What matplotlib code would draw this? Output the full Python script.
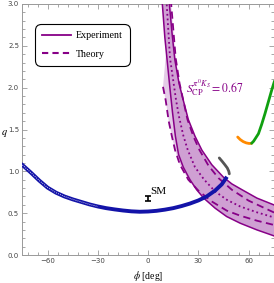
import numpy as np
import matplotlib
matplotlib.use("Agg")
import matplotlib.pyplot as plt
from matplotlib.ticker import MultipleLocator
from matplotlib.lines import Line2D

plt.rcParams['mathtext.fontset'] = 'stix'

# curves, (phi [deg], q)
exp_lo_phi = [8.0, 8.5, 10.0, 11.5, 13.0, 14.6, 16.3, 18.2, 21.0, 25.0, 29.0, 33.2, 40.0, 46.9, 55.0, 65.0, 75.0, 76.0]
exp_lo_q = [3.05, 3.0, 2.6, 2.3, 2.0, 1.7, 1.42, 1.2, 1.05, 0.90, 0.78, 0.68, 0.56, 0.46, 0.38, 0.30, 0.23, 0.22]
exp_hi_phi = [12.5, 12.7, 14.3, 16.0, 18.5, 21.0, 24.0, 28.0, 32.1, 38.0, 45.0, 50.0, 56.1, 65.0, 75.0, 76.0]
exp_hi_q = [3.05, 3.0, 2.65, 2.33, 2.05, 1.85, 1.62, 1.42, 1.254, 1.08, 0.93, 0.85, 0.78, 0.68, 0.60, 0.59]
exp_mid_phi = [10.9, 11.1, 13.1, 16.7, 18.5, 21.0, 23.7, 28.0, 33.5, 40.0, 47.0, 55.0, 65.0, 75.0, 76.0]
exp_mid_q = [3.05, 3.0, 2.35, 1.85, 1.65, 1.43, 1.254, 1.05, 0.90, 0.76, 0.66, 0.58, 0.51, 0.45, 0.445]

th_hi_phi = [13.6, 13.9, 16.5, 18.8, 21.0, 23.5, 27.0, 30.7, 36.0, 42.0, 50.0, 60.0, 75.0, 76.0]
th_hi_q = [3.05, 2.97, 2.35, 2.05, 1.85, 1.62, 1.42, 1.254, 1.07, 0.92, 0.78, 0.65, 0.51, 0.50]
th_lo_phi = [8.9, 10.5, 12.3, 14.2, 16.1, 19.0, 24.0, 30.0, 38.0, 47.0, 55.0, 65.0, 75.0, 76.0]
th_lo_q = [2.01, 1.85, 1.6, 1.42, 1.254, 1.08, 0.90, 0.77, 0.64, 0.53, 0.47, 0.41, 0.36, 0.355]

blue_phi = [-76, -75, -70, -65, -60, -55, -50, -45, -40, -35, -30, -25, -20, -15, -10, -5, 0,
            5, 10, 15, 20, 25, 30, 35, 40, 44, 47.1]
blue_q = [1.09, 1.075, 0.985, 0.89, 0.805, 0.745, 0.70, 0.665, 0.635, 0.605, 0.58, 0.56, 0.545,
          0.532, 0.522, 0.517, 0.52, 0.528, 0.542, 0.56, 0.585, 0.615, 0.652, 0.70, 0.77, 0.845, 0.935]

gray_phi = [42.5, 44.2, 45.8, 47.3, 48.2, 48.5]
gray_q = [1.16, 1.12, 1.08, 1.04, 1.0, 0.97]
orange_phi = [53.5, 55.0, 56.8, 58.6, 60.3, 61.8]
orange_q = [1.41, 1.38, 1.355, 1.34, 1.333, 1.335]
green_phi = [61.8, 63.0, 64.3, 65.9, 67.8, 69.8, 71.8, 73.8, 75.5]
green_q = [1.335, 1.36, 1.40, 1.45, 1.56, 1.69, 1.83, 1.97, 2.08]

sm_phi, sm_q, sm_err = 0.0, 0.675, 0.025

purple = '#870087'

fig = plt.figure(figsize=(2.74, 2.83), dpi=100)
ax = fig.add_axes([0.0821, 0.0989, 0.9168, 0.887])

# theory band (lighter) and experiment band
ax.fill(np.r_[th_hi_phi, th_lo_phi[::-1]], np.r_[th_hi_q, th_lo_q[::-1]],
        color='#e4cbe7', lw=0, zorder=1)
ax.fill(np.r_[exp_hi_phi, exp_lo_phi[::-1]], np.r_[exp_hi_q, exp_lo_q[::-1]],
        color='#cfa0d3', lw=0, zorder=2)

ax.plot(exp_lo_phi, exp_lo_q, color=purple, lw=1.1, zorder=3)
ax.plot(exp_hi_phi, exp_hi_q, color=purple, lw=1.1, zorder=3)
ax.plot(exp_mid_phi, exp_mid_q, color=purple, lw=1.3, ls=(0, (1, 1.6)), zorder=3)
ax.plot(th_hi_phi, th_hi_q, color=purple, lw=1.3, ls=(0, (4, 2.5)), zorder=3)
ax.plot(th_lo_phi, th_lo_q, color=purple, lw=1.3, ls=(0, (4, 2.5)), zorder=3)

ax.plot(blue_phi, blue_q, color='#1313a8', lw=2.8, zorder=4, solid_capstyle='butt')
ax.plot(blue_phi[:11], blue_q[:11], color='white', lw=0.6, ls=(0, (1, 1.5)), zorder=5)
ax.plot(gray_phi, gray_q, color='#555555', lw=2.0, zorder=4, solid_capstyle='round')
ax.plot(orange_phi, orange_q, color='#ff8a00', lw=2.0, zorder=4, solid_capstyle='round')
ax.plot(green_phi, green_q, color='#10a010', lw=2.0, zorder=4, solid_capstyle='round')

ax.errorbar([sm_phi], [sm_q], yerr=[sm_err], fmt='none', ecolor='black',
            elinewidth=1.2, capsize=2, capthick=1.2, zorder=6)
ax.text(1.0, 0.735, 'SM', fontsize=8, family='Liberation Serif', zorder=6)

ax.text(40, 2.0, r'$S_{\rm CP}^{\pi^0 K_S} = 0.67$', color=purple, fontsize=8.5,
        ha='center', va='center')

handles = [Line2D([], [], color=purple, lw=1.3),
           Line2D([], [], color=purple, lw=1.5, ls=(0, (3, 2)))]
leg = ax.legend(handles, ['Experiment', 'Theory'], loc='upper left',
                bbox_to_anchor=(0.035, 0.935), prop={'family': 'Liberation Serif', 'size': 7.2},
                handlelength=2.9, handletextpad=0.45, labelspacing=0.95,
                borderpad=0.6, frameon=True, fancybox=True, framealpha=1)
leg.get_frame().set_edgecolor('black')
leg.get_frame().set_linewidth(0.8)
leg.get_frame().set_boxstyle('round,pad=0.1,rounding_size=0.6')

ax.set_xlim(-75, 75)
ax.set_ylim(0, 3)
ax.xaxis.set_major_locator(MultipleLocator(30))
ax.xaxis.set_minor_locator(MultipleLocator(6))
ax.yaxis.set_major_locator(MultipleLocator(0.5))
ax.yaxis.set_minor_locator(MultipleLocator(0.1))
ax.yaxis.set_major_formatter(plt.FuncFormatter(lambda v, p: f'{v:.1f}'))
ax.tick_params(which='both', direction='in', top=True, right=True,
               color='#999999', labelsize=5, labelcolor='#444444', width=0.6)
ax.tick_params(which='major', length=3.5, pad=2.5)
ax.tick_params(which='minor', length=2)
for s in ax.spines.values():
    s.set_color('#999999')
    s.set_linewidth(0.7)

fig.text(0.54, 0.025, r'$\phi$ [deg]', family='Liberation Serif', fontsize=7,
         ha='center', va='center')
fig.text(0.016, 0.53, r'$q$', fontsize=7.5, ha='center', va='center')

fig.savefig('out.png', dpi=100)
